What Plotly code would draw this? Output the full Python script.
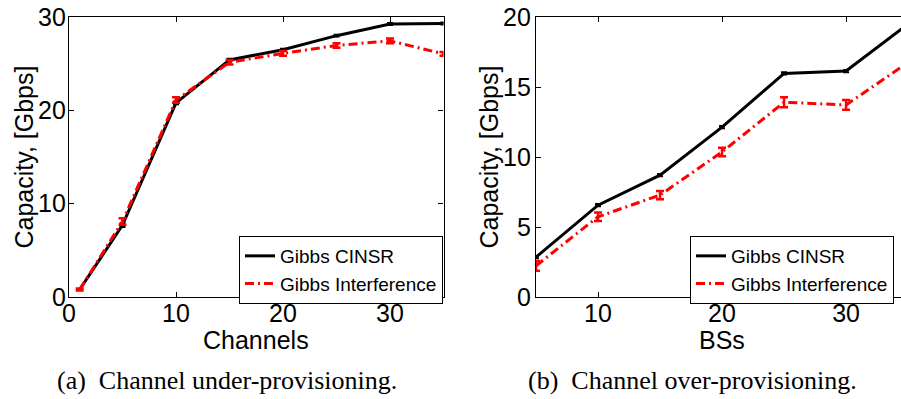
import plotly.graph_objects as go

# (a) Channel under-provisioning: capacity vs number of channels
channels = [1, 5, 10, 15, 20, 25, 30, 35]
cinsr_a = [0.8, 7.7, 20.8, 25.4, 26.5, 28.0, 29.25, 29.3]
cinsr_a_err = [0.05, 0.2, 0.15, 0.12, 0.1, 0.1, 0.1, 0.1]
interf_a = [0.8, 8.1, 21.1, 25.15, 26.1, 26.95, 27.45, 26.05]
interf_a_err = [0.1, 0.35, 0.3, 0.25, 0.25, 0.25, 0.25, 0.2]

# (b) Channel over-provisioning: capacity vs number of base stations
bss = [5, 10, 15, 20, 25, 30, 35]
cinsr_b = [2.85, 6.56, 8.7, 12.13, 15.97, 16.14, 19.5]
cinsr_b_err = [0.08, 0.08, 0.08, 0.08, 0.08, 0.08, 0.08]
interf_b = [2.23, 5.73, 7.28, 10.36, 13.91, 13.72, 16.75]
interf_b_err = [0.35, 0.3, 0.3, 0.3, 0.35, 0.35, 0.35]

x_ticks_a = [0, 10, 20, 30]
y_ticks_a = [0, 10, 20, 30]
x_ticks_b = [10, 20, 30]
y_ticks_b = [0, 5, 10, 15, 20]

W, H = 901, 399
SANS = "Liberation Sans"
SERIF = "Liberation Serif"
RED = "#ff0000"

fig = go.Figure()


def add_pair(x, yc, ec, yi, ei, xa, ya, legend):
    fig.add_trace(go.Scatter(
        x=x, y=yc, mode="lines", name="Gibbs CINSR",
        line=dict(color="black", width=3),
        error_y=dict(type="data", array=ec, color="black", thickness=2, width=3),
        xaxis=xa, yaxis=ya, legend=legend, cliponaxis=True))
    fig.add_trace(go.Scatter(
        x=x, y=yi, mode="lines", name="Gibbs Interference",
        line=dict(color=RED, width=3, dash="9px,4px,2px,4px"),
        error_y=dict(type="data", array=ei, color=RED, thickness=2.5, width=4),
        xaxis=xa, yaxis=ya, legend=legend, cliponaxis=True))


add_pair(channels, cinsr_a, cinsr_a_err, interf_a, interf_a_err, "x", "y", "legend")
add_pair(bss, cinsr_b, cinsr_b_err, interf_b, interf_b_err, "x2", "y2", "legend2")

y_dom = [1 - 297 / H, 1 - 17 / H]
tick_font = dict(family=SANS, size=25, color="black")
title_font = dict(family=SANS, size=25, color="black")
common = dict(showgrid=False, zeroline=False, showline=True, linecolor="black",
              linewidth=1.3, ticks="inside", ticklen=5, tickcolor="black",
              tickfont=tick_font, automargin=False)
legend_style = dict(yanchor="top", bgcolor="white", bordercolor="black", borderwidth=1,
                    font=dict(family=SANS, size=19, color="black"),
                    tracegroupgap=0, itemwidth=30)


def axis_title(text, x, y, angle=0):
    return dict(text=text, x=x / W, y=1 - y / H, xref="paper", yref="paper",
                xanchor="center", yanchor="middle", textangle=angle,
                showarrow=False, font=title_font)


fig.update_layout(
    width=W, height=H,
    margin=dict(l=0, r=0, t=0, b=0, autoexpand=False),
    paper_bgcolor="white", plot_bgcolor="white",
    showlegend=True,
    xaxis=dict(domain=[69 / W, 443.5 / W], range=[0, 35], tickvals=x_ticks_a,
               mirror="ticks", anchor="y", ticklabelstandoff=-6, **common),
    yaxis=dict(domain=y_dom, range=[0, 30], tickvals=y_ticks_a,
               mirror="ticks", anchor="x", ticklabelstandoff=-3, **common),
    xaxis2=dict(domain=[536 / W, 1.0], range=[5, 34.43], tickvals=x_ticks_b,
                mirror="ticks", anchor="y2", ticklabelstandoff=-6, **common),
    yaxis2=dict(domain=y_dom, range=[0, 20], tickvals=y_ticks_b,
                anchor="x2", ticklabelstandoff=-1, **common),
    legend=dict(x=443 / W, xanchor="right", y=1 - 236 / H, **legend_style),
    legend2=dict(x=690 / W, xanchor="left", y=1 - 236 / H, **legend_style),
    annotations=[
        axis_title("Channels", 256, 340),
        axis_title("BSs", 722, 340),
        axis_title("Capacity, [Gbps]", 23.5, 157, -90),
        axis_title("Capacity, [Gbps]", 488.5, 157, -90),
        dict(text="(a)\u00a0 Channel under-provisioning.", x=227 / W, y=1 - 380 / H,
             xref="paper", yref="paper", xanchor="center", yanchor="middle",
             showarrow=False, font=dict(family=SERIF, size=26, color="black")),
        dict(text="(b)\u00a0 Channel over-provisioning.", x=692 / W, y=1 - 380 / H,
             xref="paper", yref="paper", xanchor="center", yanchor="middle",
             showarrow=False, font=dict(family=SERIF, size=26, color="black")),
    ],
)

fig.write_html("out.html")
